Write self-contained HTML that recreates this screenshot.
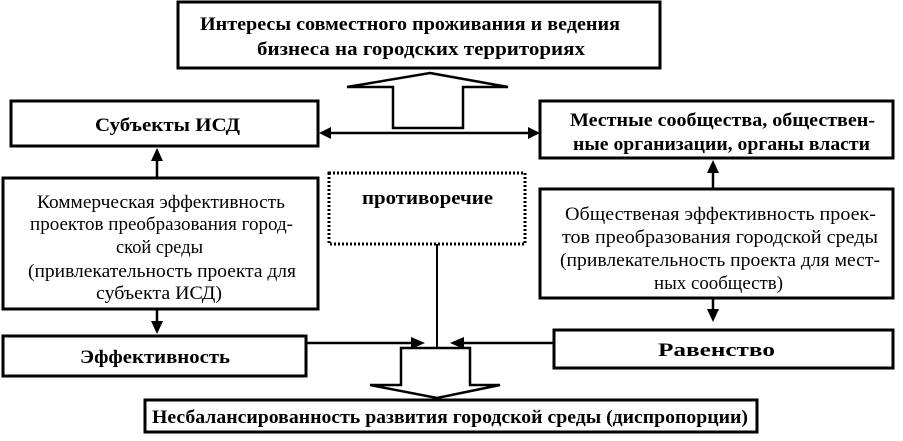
<!DOCTYPE html>
<html><head><meta charset="utf-8"><style>
body{margin:0;background:#fff}
</style></head><body>
<svg width="903" height="436" viewBox="0 0 903 436" xmlns="http://www.w3.org/2000/svg">
<g fill="none" stroke="#000" stroke-width="3">
<rect x="178" y="2" width="482" height="66"/>
<rect x="11" y="101" width="307" height="45"/>
<rect x="540" y="101" width="353" height="57"/>
<rect x="3" y="178" width="315" height="131"/>
<rect x="540" y="189" width="353" height="109"/>
<rect x="3" y="336" width="303" height="40"/>
<rect x="554" y="330" width="339" height="38"/>
<rect x="145" y="400" width="612" height="32"/>
<rect x="329" y="173" width="196" height="71" stroke-dasharray="2,2"/>
<path d="M430,73 L508,87 L463,87 L463,128 L393,128 L393,87 L347,87 Z" stroke-width="2.5"/>
<path d="M401,348 L470,348 L470,385 L500,385 L437,398 L370,385 L401,385 Z" stroke-width="2.5"/>
</g>
<g stroke="#000" stroke-width="2.5" fill="none">
<line x1="330" y1="133" x2="528" y2="133"/>
<line x1="157" y1="178" x2="157" y2="160"/>
<line x1="713" y1="188" x2="713" y2="172"/>
<line x1="157" y1="309" x2="157" y2="322"/>
<line x1="713" y1="298" x2="713" y2="310"/>
<line x1="306" y1="343" x2="412" y2="343"/>
<line x1="554" y1="343" x2="463" y2="343"/>
<line x1="437" y1="244" x2="437" y2="347" stroke-width="2"/>
</g>
<g fill="#000">
<path d="M319,133 L331,127 L331,139Z"/>
<path d="M540,133 L528,127 L528,139Z"/>
<path d="M157,148 L151,161 L163,161Z"/>
<path d="M713,160 L707,173 L719,173Z"/>
<path d="M157,334 L151,321 L163,321Z"/>
<path d="M713,322 L707,309 L719,309Z"/>
<path d="M425,343 L411,337 L411,349Z"/>
<path d="M450,343 L464,337 L464,349Z"/>
</g>
<g font-family="'Liberation Serif','Times New Roman','DejaVu Serif',serif" fill="#000" lengthAdjust="spacingAndGlyphs">
<g font-weight="bold" font-size="19">
<text x="200" y="30" textLength="420" lengthAdjust="spacingAndGlyphs">Интересы совместного проживания и ведения</text>
<text x="257" y="55" textLength="328" lengthAdjust="spacingAndGlyphs">бизнеса на городских территориях</text>
<text x="95" y="131" textLength="145" lengthAdjust="spacingAndGlyphs">Субъекты ИСД</text>
<text x="570" y="126" textLength="305" lengthAdjust="spacingAndGlyphs">Местные сообщества, обществен-</text>
<text x="573" y="150" textLength="297" lengthAdjust="spacingAndGlyphs">ные организации, органы власти</text>
<text x="362" y="204" textLength="131" lengthAdjust="spacingAndGlyphs">противоречие</text>
<text x="80" y="363" textLength="150" lengthAdjust="spacingAndGlyphs">Эффективность</text>
<text x="658" y="356" textLength="117" lengthAdjust="spacingAndGlyphs">Равенство</text>
<text x="152" y="423" textLength="596" lengthAdjust="spacingAndGlyphs">Несбалансированность развития городской среды (диспропорции)</text>
</g>
<g font-size="19">
<text x="37" y="208" textLength="248" lengthAdjust="spacingAndGlyphs">Коммерческая эффективность</text>
<text x="30" y="230" textLength="263" lengthAdjust="spacingAndGlyphs">проектов преобразования город-</text>
<text x="116" y="253" textLength="87" lengthAdjust="spacingAndGlyphs">ской среды</text>
<text x="28" y="277" textLength="268" lengthAdjust="spacingAndGlyphs">(привлекательность проекта для</text>
<text x="96" y="299" textLength="126" lengthAdjust="spacingAndGlyphs">субъекта ИСД)</text>
<text x="565" y="220" textLength="311" lengthAdjust="spacingAndGlyphs">Общественая эффективность проек-</text>
<text x="562" y="243" textLength="316" lengthAdjust="spacingAndGlyphs">тов преобразования городской среды</text>
<text x="560" y="266" textLength="320" lengthAdjust="spacingAndGlyphs">(привлекательность проекта для мест-</text>
<text x="654" y="289" textLength="129" lengthAdjust="spacingAndGlyphs">ных сообществ)</text>
</g>
</g>
</svg>
</body></html>
